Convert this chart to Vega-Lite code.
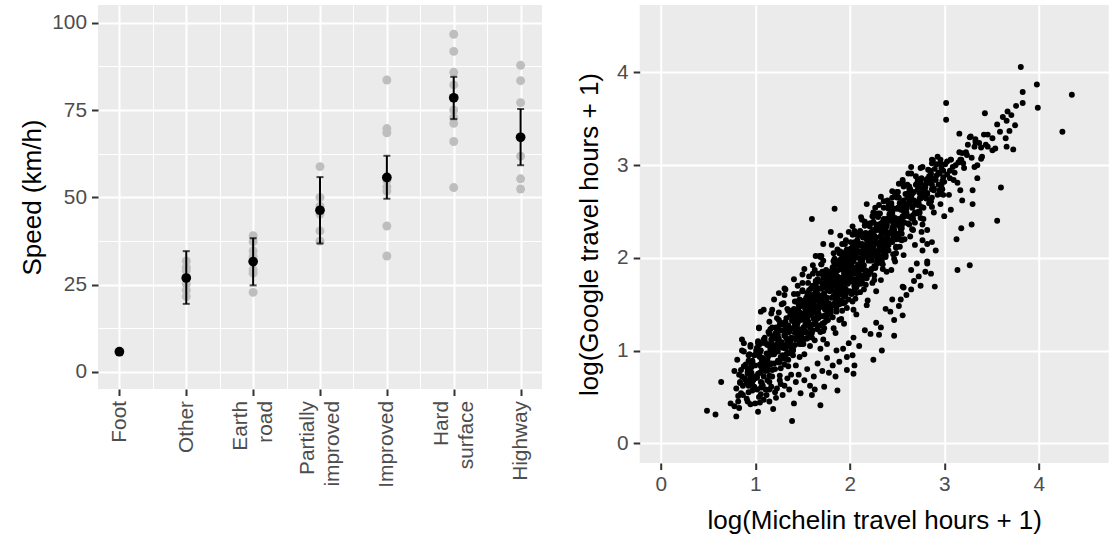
{
"$schema": "https://vega.github.io/schema/vega-lite/v6.json",
"padding": {"left": 19, "top": 5, "right": 0, "bottom": 0},
"spacing": 33.7,
"config": {
  "font": "Liberation Sans",
  "view": {"fill": "#EBEBEB", "stroke": null},
  "axis": {"domain": false, "gridColor": "#FFFFFF", "tickColor": "#333333", "tickSize": 6.5, "tickWidth": 2, "labelColor": "#4D4D4D", "labelFontSize": 20.8, "titleFontSize": 26, "titleColor": "#000000", "titleFontWeight": "normal", "labelPadding": 5, "titlePadding": 6.5}
},
"datasets": {
"roads": [
{"road":"Foot","speed":5.7},
{"road":"Other","speed":31.8},{"road":"Other","speed":30.0},{"road":"Other","speed":29.0},{"road":"Other","speed":27.0},{"road":"Other","speed":25.2},{"road":"Other","speed":23.4},{"road":"Other","speed":21.6},
{"road":"Earth road","speed":39.0},{"road":"Earth road","speed":37.3},{"road":"Earth road","speed":34.7},{"road":"Earth road","speed":33.0},{"road":"Earth road","speed":29.3},{"road":"Earth road","speed":28.3},{"road":"Earth road","speed":22.8},
{"road":"Partially improved","speed":58.8},{"road":"Partially improved","speed":50.0},{"road":"Partially improved","speed":47.5},{"road":"Partially improved","speed":45.2},{"road":"Partially improved","speed":40.4},{"road":"Partially improved","speed":37.5},
{"road":"Improved","speed":83.6},{"road":"Improved","speed":69.7},{"road":"Improved","speed":68.5},{"road":"Improved","speed":54.8},{"road":"Improved","speed":53.0},{"road":"Improved","speed":51.8},{"road":"Improved","speed":41.8},{"road":"Improved","speed":33.2},
{"road":"Hard surface","speed":96.7},{"road":"Hard surface","speed":91.8},{"road":"Hard surface","speed":85.8},{"road":"Hard surface","speed":82.2},{"road":"Hard surface","speed":75.0},{"road":"Hard surface","speed":72.8},{"road":"Hard surface","speed":71.2},{"road":"Hard surface","speed":66.0},{"road":"Hard surface","speed":52.8},
{"road":"Highway","speed":87.8},{"road":"Highway","speed":83.4},{"road":"Highway","speed":77.1},{"road":"Highway","speed":61.8},{"road":"Highway","speed":55.3},{"road":"Highway","speed":52.4}
],
"means": [
{"road":"Foot","mean":5.8,"lo":null,"hi":null},
{"road":"Other","mean":26.9,"lo":19.5,"hi":34.6},
{"road":"Earth road","mean":31.6,"lo":24.8,"hi":38.3},
{"road":"Partially improved","mean":46.3,"lo":36.8,"hi":55.8},
{"road":"Improved","mean":55.7,"lo":49.6,"hi":61.9},
{"road":"Hard surface","mean":78.5,"lo":72.4,"hi":84.5},
{"road":"Highway","mean":67.2,"lo":59.2,"hi":75.3}
],
"travel": [
{"m":0.49,"g":0.35},{"m":0.58,"g":0.31},{"m":0.64,"g":0.66},{"m":0.78,"g":0.78},{"m":0.80,"g":0.29},{"m":0.74,"g":0.43},{"m":0.78,"g":0.40},{"m":0.83,"g":0.38},{"m":0.85,"g":0.54},{"m":0.86,"g":0.72},{"m":0.90,"g":0.68},{"m":0.84,"g":0.65},{"m":0.93,"g":0.55},{"m":0.92,"g":0.45},{"m":0.99,"g":0.61},{"m":1.00,"g":0.43},{"m":1.03,"g":0.34},{"m":1.04,"g":0.50},{"m":1.09,"g":0.47},{"m":1.11,"g":0.58},{"m":1.19,"g":0.37},{"m":1.22,"g":0.49},{"m":1.23,"g":0.59},{"m":1.13,"g":0.68},{"m":1.18,"g":0.79},{"m":1.06,"g":0.83},{"m":0.97,"g":0.88},{"m":0.93,"g":0.95},{"m":0.88,"g":0.99},{"m":0.86,"g":1.12},{"m":0.88,"g":1.08},{"m":0.95,"g":1.04},{"m":1.06,"g":1.08},{"m":1.04,"g":1.24},{"m":1.06,"g":1.42},{"m":1.09,"g":1.44},{"m":1.18,"g":1.44},{"m":1.15,"g":1.31},{"m":1.20,"g":1.55},{"m":1.25,"g":1.62},{"m":1.32,"g":1.66},{"m":1.41,"g":1.77},{"m":1.52,"g":1.88},{"m":1.57,"g":1.80},{"m":1.64,"g":2.02},{"m":1.69,"g":2.01},{"m":1.72,"g":2.15},{"m":1.39,"g":0.24},{"m":1.41,"g":0.43},{"m":1.48,"g":0.54},{"m":1.60,"g":0.52},{"m":1.69,"g":0.41},{"m":1.63,"g":0.58},{"m":1.73,"g":0.61},{"m":1.87,"g":0.57},{"m":1.85,"g":0.72},{"m":1.78,"g":0.76},{"m":1.97,"g":0.79},{"m":2.04,"g":0.75},{"m":2.05,"g":0.84},{"m":1.89,"g":0.88},{"m":1.97,"g":0.93},{"m":2.03,"g":0.95},{"m":2.25,"g":0.90},{"m":2.34,"g":1.00},{"m":2.47,"g":1.16},{"m":2.31,"g":1.17},{"m":2.56,"g":1.38},{"m":2.47,"g":1.33},{"m":2.43,"g":1.42},{"m":2.54,"g":1.55},{"m":2.45,"g":1.55},{"m":2.57,"g":1.68},{"m":2.65,"g":1.66},{"m":2.86,"g":1.83},{"m":2.90,"g":1.69},{"m":2.82,"g":1.96},{"m":2.71,"g":1.94},{"m":2.77,"g":2.08},{"m":2.82,"g":2.15},
{"m":1.60,"g":2.42},{"m":1.84,"g":2.53},{"m":1.80,"g":2.28},{"m":1.68,"g":2.02},{"m":1.31,"g":1.67},{"m":1.99,"g":2.28},{"m":2.18,"g":2.58},{"m":2.13,"g":2.41},{"m":2.33,"g":2.66},{"m":2.40,"g":2.62},{"m":2.49,"g":2.70},{"m":2.56,"g":2.82},{"m":2.62,"g":2.91},{"m":2.65,"g":2.98},{"m":2.75,"g":2.97},{"m":2.87,"g":3.02},{"m":2.96,"g":3.06},{"m":3.03,"g":3.04},{"m":3.16,"g":3.34},{"m":3.28,"g":3.31},{"m":3.33,"g":3.25},{"m":3.42,"g":3.33},{"m":3.46,"g":3.20},{"m":3.39,"g":3.07},{"m":3.32,"g":2.98},{"m":3.35,"g":2.86},{"m":3.30,"g":2.73},{"m":3.30,"g":2.58},{"m":3.29,"g":2.36},{"m":3.18,"g":2.32},{"m":3.13,"g":2.20},{"m":3.07,"g":2.52},{"m":3.00,"g":2.45},{"m":2.91,"g":2.08},{"m":2.82,"g":1.94},{"m":3.14,"g":1.87},{"m":3.27,"g":1.92},{"m":3.56,"g":2.40},{"m":3.60,"g":2.76},{"m":3.17,"g":2.73},{"m":3.19,"g":2.62},{"m":3.10,"g":2.84},{"m":2.93,"g":2.68},{"m":2.82,"g":2.30},{"m":2.77,"g":2.19},{"m":2.87,"g":2.17},{"m":2.65,"g":1.87},{"m":2.73,"g":1.80},{"m":2.56,"g":1.69},
{"m":3.81,"g":4.06},{"m":3.98,"g":3.87},{"m":4.35,"g":3.76},{"m":3.83,"g":3.79},{"m":3.99,"g":3.62},{"m":4.25,"g":3.36},{"m":3.02,"g":3.67},{"m":3.02,"g":3.49},{"m":3.43,"g":3.56},{"m":3.83,"g":3.67},{"m":3.76,"g":3.64},{"m":3.67,"g":3.58},{"m":3.71,"g":3.54},{"m":3.75,"g":3.43},{"m":3.66,"g":3.48},{"m":3.62,"g":3.52},{"m":3.56,"g":3.44},{"m":3.69,"g":3.37},{"m":3.59,"g":3.36},{"m":3.65,"g":3.29},{"m":3.51,"g":3.29},{"m":3.46,"g":3.33},{"m":3.54,"g":3.18},{"m":3.66,"g":3.20},{"m":3.73,"g":3.17},{"m":3.51,"g":3.16},{"m":3.27,"g":3.30},{"m":3.33,"g":3.28},{"m":3.37,"g":3.24},{"m":3.32,"g":3.20},{"m":3.39,"g":3.19},{"m":3.44,"g":3.22},{"m":3.40,"g":3.09},{"m":3.35,"g":3.00},{"m":3.19,"g":3.13},{"m":3.17,"g":3.06},{"m":3.21,"g":2.97},{"m":3.07,"g":3.06},{"m":2.96,"g":3.02},{"m":2.87,"g":3.06},
{"m":0.83,"g":0.74},{"m":0.87,"g":0.62},{"m":0.81,"g":0.90},{"m":0.89,"g":0.70},{"m":0.85,"g":0.79},{"m":0.82,"g":0.51},{"m":0.88,"g":0.83},{"m":0.84,"g":0.66},{"m":0.86,"g":1.00},{"m":0.80,"g":0.59},
{"m":0.92,"g":0.80},{"m":0.98,"g":0.68},{"m":0.94,"g":0.96},{"m":0.96,"g":0.76},{"m":0.90,"g":0.85},{"m":0.97,"g":0.57},{"m":0.93,"g":0.89},{"m":0.99,"g":0.72},{"m":0.95,"g":1.06},{"m":0.91,"g":0.65},{"m":0.96,"g":0.82},{"m":0.92,"g":0.77},
{"m":1.07,"g":0.90},{"m":1.03,"g":0.75},{"m":1.09,"g":1.12},{"m":1.05,"g":0.85},{"m":1.01,"g":0.97},{"m":1.06,"g":0.60},{"m":1.02,"g":1.03},{"m":1.08,"g":0.80},{"m":1.04,"g":1.25},{"m":1.00,"g":0.70},{"m":1.05,"g":0.93},{"m":1.09,"g":0.87},{"m":1.03,"g":1.08},{"m":1.07,"g":0.65},{"m":1.01,"g":1.00},{"m":1.06,"g":0.53},
{"m":1.16,"g":1.00},{"m":1.12,"g":0.84},{"m":1.18,"g":1.25},{"m":1.14,"g":0.94},{"m":1.10,"g":1.08},{"m":1.15,"g":0.66},{"m":1.19,"g":1.15},{"m":1.13,"g":0.89},{"m":1.17,"g":1.40},{"m":1.11,"g":0.78},{"m":1.16,"g":1.03},{"m":1.12,"g":0.97},{"m":1.14,"g":1.20},{"m":1.18,"g":0.72},{"m":1.10,"g":1.11},{"m":1.15,"g":0.58},{"m":1.13,"g":1.06},{"m":1.17,"g":0.86},
{"m":1.25,"g":1.10},{"m":1.29,"g":0.92},{"m":1.23,"g":1.35},{"m":1.27,"g":1.04},{"m":1.21,"g":1.18},{"m":1.26,"g":0.73},{"m":1.22,"g":1.25},{"m":1.24,"g":0.99},{"m":1.28,"g":1.50},{"m":1.20,"g":0.86},{"m":1.25,"g":1.13},{"m":1.23,"g":1.07},{"m":1.27,"g":1.30},{"m":1.21,"g":0.80},{"m":1.23,"g":1.21},{"m":1.27,"g":0.64},{"m":1.21,"g":1.16},{"m":1.29,"g":0.95},{"m":1.25,"g":1.41},{"m":1.22,"g":1.02},{"m":1.28,"g":1.09},{"m":1.24,"g":0.89},
{"m":1.36,"g":1.20},{"m":1.32,"g":1.02},{"m":1.34,"g":1.45},{"m":1.38,"g":1.14},{"m":1.30,"g":1.28},{"m":1.35,"g":0.83},{"m":1.33,"g":1.35},{"m":1.37,"g":1.09},{"m":1.31,"g":1.60},{"m":1.33,"g":0.96},{"m":1.37,"g":1.23},{"m":1.31,"g":1.17},{"m":1.39,"g":1.40},{"m":1.35,"g":0.90},{"m":1.32,"g":1.31},{"m":1.38,"g":0.74},{"m":1.34,"g":1.26},{"m":1.36,"g":1.05},{"m":1.30,"g":1.51},{"m":1.37,"g":1.12},{"m":1.33,"g":1.19},{"m":1.39,"g":0.99},{"m":1.35,"g":1.43},{"m":1.31,"g":0.85},
{"m":1.45,"g":1.30},{"m":1.43,"g":1.12},{"m":1.47,"g":1.55},{"m":1.41,"g":1.24},{"m":1.43,"g":1.38},{"m":1.47,"g":0.93},{"m":1.41,"g":1.45},{"m":1.49,"g":1.19},{"m":1.45,"g":1.70},{"m":1.42,"g":1.06},{"m":1.48,"g":1.33},{"m":1.44,"g":1.27},{"m":1.46,"g":1.50},{"m":1.40,"g":1.00},{"m":1.47,"g":1.41},{"m":1.43,"g":0.84},{"m":1.49,"g":1.36},{"m":1.45,"g":1.15},{"m":1.41,"g":1.61},{"m":1.46,"g":1.22},{"m":1.42,"g":1.29},{"m":1.48,"g":1.09},{"m":1.44,"g":1.53},{"m":1.40,"g":0.95},{"m":1.45,"g":1.43},{"m":1.49,"g":1.21},
{"m":1.57,"g":1.42},{"m":1.51,"g":1.24},{"m":1.59,"g":1.67},{"m":1.55,"g":1.36},{"m":1.52,"g":1.50},{"m":1.58,"g":1.05},{"m":1.54,"g":1.57},{"m":1.56,"g":1.31},{"m":1.50,"g":1.82},{"m":1.57,"g":1.18},{"m":1.53,"g":1.45},{"m":1.59,"g":1.39},{"m":1.55,"g":1.62},{"m":1.51,"g":1.12},{"m":1.56,"g":1.53},{"m":1.52,"g":0.96},{"m":1.58,"g":1.48},{"m":1.54,"g":1.27},{"m":1.50,"g":1.73},{"m":1.55,"g":1.34},{"m":1.59,"g":1.41},{"m":1.53,"g":1.21},{"m":1.57,"g":1.65},{"m":1.51,"g":1.07},{"m":1.56,"g":1.55},{"m":1.52,"g":1.33},{"m":1.54,"g":1.44},{"m":1.58,"g":1.15},
{"m":1.68,"g":1.52},{"m":1.64,"g":1.32},{"m":1.66,"g":1.77},{"m":1.60,"g":1.46},{"m":1.67,"g":1.60},{"m":1.63,"g":1.11},{"m":1.69,"g":1.67},{"m":1.65,"g":1.40},{"m":1.61,"g":1.92},{"m":1.66,"g":1.26},{"m":1.62,"g":1.55},{"m":1.68,"g":1.49},{"m":1.64,"g":1.72},{"m":1.60,"g":1.19},{"m":1.65,"g":1.63},{"m":1.69,"g":1.02},{"m":1.63,"g":1.58},{"m":1.67,"g":1.35},{"m":1.61,"g":1.83},{"m":1.66,"g":1.43},{"m":1.62,"g":1.51},{"m":1.64,"g":1.29},{"m":1.68,"g":1.75},{"m":1.60,"g":1.14},{"m":1.65,"g":1.65},{"m":1.63,"g":1.42},{"m":1.67,"g":1.54},{"m":1.61,"g":1.22},{"m":1.63,"g":1.87},{"m":1.67,"g":1.37},
{"m":1.73,"g":1.62},{"m":1.79,"g":1.42},{"m":1.75,"g":1.87},{"m":1.71,"g":1.56},{"m":1.76,"g":1.70},{"m":1.72,"g":1.21},{"m":1.78,"g":1.77},{"m":1.74,"g":1.50},{"m":1.70,"g":2.02},{"m":1.75,"g":1.36},{"m":1.79,"g":1.65},{"m":1.73,"g":1.59},{"m":1.77,"g":1.82},{"m":1.71,"g":1.29},{"m":1.76,"g":1.73},{"m":1.72,"g":1.12},{"m":1.74,"g":1.68},{"m":1.78,"g":1.45},{"m":1.70,"g":1.93},{"m":1.75,"g":1.53},{"m":1.73,"g":1.61},{"m":1.77,"g":1.39},{"m":1.71,"g":1.85},{"m":1.73,"g":1.24},{"m":1.77,"g":1.75},{"m":1.71,"g":1.52},{"m":1.79,"g":1.64},{"m":1.75,"g":1.32},{"m":1.72,"g":1.97},{"m":1.78,"g":1.47},{"m":1.74,"g":1.80},{"m":1.76,"g":1.07},
{"m":1.82,"g":1.74},{"m":1.88,"g":1.54},{"m":1.84,"g":1.99},{"m":1.80,"g":1.68},{"m":1.85,"g":1.82},{"m":1.89,"g":1.33},{"m":1.83,"g":1.89},{"m":1.87,"g":1.62},{"m":1.81,"g":2.14},{"m":1.86,"g":1.48},{"m":1.82,"g":1.77},{"m":1.84,"g":1.71},{"m":1.88,"g":1.94},{"m":1.80,"g":1.41},{"m":1.85,"g":1.85},{"m":1.83,"g":1.24},{"m":1.87,"g":1.80},{"m":1.81,"g":1.57},{"m":1.83,"g":2.05},{"m":1.87,"g":1.65},{"m":1.81,"g":1.73},{"m":1.89,"g":1.51},{"m":1.85,"g":1.97},{"m":1.82,"g":1.36},{"m":1.88,"g":1.87},{"m":1.84,"g":1.64},{"m":1.86,"g":1.76},{"m":1.80,"g":1.44},{"m":1.87,"g":2.09},{"m":1.83,"g":1.59},{"m":1.89,"g":1.92},{"m":1.85,"g":1.19},{"m":1.81,"g":1.78},{"m":1.86,"g":1.69},
{"m":1.99,"g":1.84},{"m":1.93,"g":1.64},{"m":1.97,"g":2.09},{"m":1.91,"g":1.78},{"m":1.96,"g":1.92},{"m":1.92,"g":1.43},{"m":1.94,"g":1.99},{"m":1.98,"g":1.72},{"m":1.90,"g":2.24},{"m":1.95,"g":1.58},{"m":1.93,"g":1.87},{"m":1.97,"g":1.81},{"m":1.91,"g":2.04},{"m":1.93,"g":1.51},{"m":1.97,"g":1.95},{"m":1.91,"g":1.34},{"m":1.99,"g":1.90},{"m":1.95,"g":1.67},{"m":1.92,"g":2.15},{"m":1.98,"g":1.75},{"m":1.94,"g":1.83},{"m":1.96,"g":1.61},{"m":1.90,"g":2.07},{"m":1.97,"g":1.46},{"m":1.93,"g":1.97},{"m":1.99,"g":1.74},{"m":1.95,"g":1.86},{"m":1.91,"g":1.54},{"m":1.96,"g":2.19},{"m":1.92,"g":1.69},{"m":1.98,"g":2.02},{"m":1.94,"g":1.29},{"m":1.90,"g":1.88},{"m":1.95,"g":1.79},
{"m":2.02,"g":1.94},{"m":2.04,"g":1.74},{"m":2.08,"g":2.19},{"m":2.00,"g":1.88},{"m":2.05,"g":2.02},{"m":2.03,"g":1.53},{"m":2.07,"g":2.09},{"m":2.01,"g":1.82},{"m":2.03,"g":2.34},{"m":2.07,"g":1.68},{"m":2.01,"g":1.97},{"m":2.09,"g":1.91},{"m":2.05,"g":2.14},{"m":2.02,"g":1.61},{"m":2.08,"g":2.05},{"m":2.04,"g":1.44},{"m":2.06,"g":2.00},{"m":2.00,"g":1.77},{"m":2.07,"g":2.25},{"m":2.03,"g":1.85},{"m":2.09,"g":1.93},{"m":2.05,"g":1.71},{"m":2.01,"g":2.17},{"m":2.06,"g":1.56},{"m":2.02,"g":2.07},{"m":2.08,"g":1.84},{"m":2.04,"g":1.96},{"m":2.00,"g":1.64},{"m":2.05,"g":2.29},{"m":2.09,"g":1.79},{"m":2.03,"g":2.12},{"m":2.07,"g":1.39},{"m":2.01,"g":1.98},{"m":2.06,"g":1.89},
{"m":2.13,"g":2.04},{"m":2.17,"g":1.84},{"m":2.11,"g":2.29},{"m":2.13,"g":1.98},{"m":2.17,"g":2.12},{"m":2.11,"g":1.63},{"m":2.19,"g":2.19},{"m":2.15,"g":1.92},{"m":2.12,"g":2.44},{"m":2.18,"g":1.78},{"m":2.14,"g":2.07},{"m":2.16,"g":2.01},{"m":2.10,"g":2.24},{"m":2.17,"g":1.71},{"m":2.13,"g":2.15},{"m":2.19,"g":1.54},{"m":2.15,"g":2.10},{"m":2.11,"g":1.87},{"m":2.16,"g":2.35},{"m":2.12,"g":1.95},{"m":2.18,"g":2.03},{"m":2.14,"g":1.81},{"m":2.10,"g":2.27},{"m":2.15,"g":1.66},{"m":2.19,"g":2.17},{"m":2.13,"g":1.94},{"m":2.17,"g":2.06},{"m":2.11,"g":1.74},{"m":2.16,"g":2.39},{"m":2.12,"g":1.89},{"m":2.14,"g":2.22},{"m":2.18,"g":1.49},
{"m":2.21,"g":2.14},{"m":2.29,"g":1.94},{"m":2.25,"g":2.39},{"m":2.22,"g":2.08},{"m":2.28,"g":2.22},{"m":2.24,"g":1.73},{"m":2.26,"g":2.29},{"m":2.20,"g":2.02},{"m":2.27,"g":2.54},{"m":2.23,"g":1.88},{"m":2.29,"g":2.17},{"m":2.25,"g":2.11},{"m":2.21,"g":2.34},{"m":2.26,"g":1.81},{"m":2.22,"g":2.25},{"m":2.28,"g":1.64},{"m":2.24,"g":2.20},{"m":2.20,"g":1.97},{"m":2.25,"g":2.45},{"m":2.29,"g":2.05},{"m":2.23,"g":2.13},{"m":2.27,"g":1.91},{"m":2.21,"g":2.37},{"m":2.26,"g":1.76},{"m":2.22,"g":2.27},{"m":2.24,"g":2.04},{"m":2.28,"g":2.16},{"m":2.20,"g":1.84},{"m":2.25,"g":2.49},{"m":2.23,"g":1.99},
{"m":2.34,"g":2.26},{"m":2.36,"g":2.06},{"m":2.30,"g":2.48},{"m":2.37,"g":2.20},{"m":2.33,"g":2.33},{"m":2.39,"g":1.85},{"m":2.35,"g":2.39},{"m":2.31,"g":2.14},{"m":2.36,"g":2.61},{"m":2.32,"g":2.00},{"m":2.38,"g":2.29},{"m":2.34,"g":2.23},{"m":2.30,"g":2.44},{"m":2.35,"g":1.93},{"m":2.39,"g":2.36},{"m":2.33,"g":1.76},{"m":2.37,"g":2.31},{"m":2.31,"g":2.09},{"m":2.36,"g":2.54},{"m":2.32,"g":2.17},{"m":2.34,"g":2.25},{"m":2.38,"g":2.03},{"m":2.30,"g":2.46},{"m":2.35,"g":1.88},{"m":2.33,"g":2.37},{"m":2.37,"g":2.16},
{"m":2.49,"g":2.37},{"m":2.45,"g":2.17},{"m":2.41,"g":2.59},{"m":2.46,"g":2.31},{"m":2.42,"g":2.44},{"m":2.48,"g":1.96},{"m":2.44,"g":2.50},{"m":2.40,"g":2.25},{"m":2.45,"g":2.72},{"m":2.49,"g":2.11},{"m":2.43,"g":2.40},{"m":2.47,"g":2.34},{"m":2.41,"g":2.55},{"m":2.46,"g":2.04},{"m":2.42,"g":2.47},{"m":2.44,"g":1.87},{"m":2.48,"g":2.42},{"m":2.40,"g":2.20},{"m":2.45,"g":2.65},{"m":2.43,"g":2.28},{"m":2.47,"g":2.36},{"m":2.41,"g":2.14},{"m":2.43,"g":2.57},{"m":2.47,"g":1.99},
{"m":2.58,"g":2.49},{"m":2.54,"g":2.31},{"m":2.50,"g":2.71},{"m":2.55,"g":2.43},{"m":2.59,"g":2.56},{"m":2.53,"g":2.12},{"m":2.57,"g":2.62},{"m":2.51,"g":2.38},{"m":2.56,"g":2.84},{"m":2.52,"g":2.25},{"m":2.54,"g":2.52},{"m":2.58,"g":2.46},{"m":2.50,"g":2.67},{"m":2.55,"g":2.19},{"m":2.53,"g":2.59},{"m":2.57,"g":2.03},{"m":2.51,"g":2.54},{"m":2.53,"g":2.34},{"m":2.57,"g":2.77},{"m":2.51,"g":2.41},
{"m":2.63,"g":2.60},{"m":2.67,"g":2.42},{"m":2.61,"g":2.79},{"m":2.66,"g":2.54},{"m":2.62,"g":2.66},{"m":2.64,"g":2.23},{"m":2.68,"g":2.71},{"m":2.60,"g":2.49},{"m":2.65,"g":2.91},{"m":2.63,"g":2.36},{"m":2.67,"g":2.62},{"m":2.61,"g":2.57},{"m":2.63,"g":2.75},{"m":2.67,"g":2.30},{"m":2.61,"g":2.68},{"m":2.69,"g":2.14},{"m":2.65,"g":2.64},{"m":2.62,"g":2.45},
{"m":2.74,"g":2.70},{"m":2.78,"g":2.54},{"m":2.70,"g":2.88},{"m":2.75,"g":2.64},{"m":2.73,"g":2.75},{"m":2.77,"g":2.36},{"m":2.71,"g":2.80},{"m":2.73,"g":2.59},{"m":2.77,"g":2.98},{"m":2.71,"g":2.48},{"m":2.79,"g":2.72},{"m":2.75,"g":2.67},{"m":2.72,"g":2.84},{"m":2.78,"g":2.42},{"m":2.74,"g":2.77},{"m":2.76,"g":2.28},
{"m":2.87,"g":2.79},{"m":2.81,"g":2.64},{"m":2.83,"g":2.95},{"m":2.87,"g":2.74},{"m":2.81,"g":2.84},{"m":2.89,"g":2.49},{"m":2.85,"g":2.88},{"m":2.82,"g":2.69},{"m":2.88,"g":3.05},{"m":2.84,"g":2.59},{"m":2.86,"g":2.81},{"m":2.80,"g":2.76},
{"m":2.99,"g":2.87},{"m":2.95,"g":2.73},{"m":2.92,"g":3.01},{"m":2.98,"g":2.83},{"m":2.94,"g":2.92},{"m":2.96,"g":2.58},{"m":2.90,"g":2.96},{"m":2.97,"g":2.78},{"m":2.93,"g":3.09},{"m":2.99,"g":2.68},
{"m":3.06,"g":2.94},{"m":3.00,"g":2.82},{"m":3.07,"g":3.06},{"m":3.03,"g":2.90},{"m":3.09,"g":2.98},{"m":3.05,"g":2.68},{"m":3.01,"g":3.01},{"m":3.06,"g":2.86},
{"m":3.15,"g":3.03},{"m":3.11,"g":2.92},{"m":3.16,"g":3.14},{"m":3.12,"g":3.00},{"m":3.18,"g":3.06},{"m":3.14,"g":2.81},
{"m":3.24,"g":3.11},{"m":3.20,"g":3.02},{"m":3.25,"g":3.22},{"m":3.29,"g":3.08},{"m":3.23,"g":3.14},
{"m":1.45,"g":1.34},{"m":1.41,"g":1.13},{"m":1.47,"g":1.52},{"m":1.43,"g":1.25},{"m":1.48,"g":1.40},{"m":1.40,"g":1.01},{"m":1.46,"g":1.46},{"m":1.42,"g":1.19},{"m":1.45,"g":1.61},{"m":1.49,"g":1.07},{"m":1.44,"g":1.28},{"m":1.46,"g":1.37},
{"m":1.53,"g":1.46},{"m":1.58,"g":1.25},{"m":1.50,"g":1.64},{"m":1.56,"g":1.37},{"m":1.52,"g":1.52},{"m":1.55,"g":1.13},{"m":1.59,"g":1.58},{"m":1.54,"g":1.31},{"m":1.56,"g":1.73},{"m":1.55,"g":1.19},{"m":1.51,"g":1.40},{"m":1.57,"g":1.49},
{"m":1.66,"g":1.56},{"m":1.62,"g":1.35},{"m":1.65,"g":1.74},{"m":1.69,"g":1.47},{"m":1.64,"g":1.62},{"m":1.66,"g":1.23},{"m":1.65,"g":1.68},{"m":1.61,"g":1.41},{"m":1.67,"g":1.83},{"m":1.63,"g":1.29},{"m":1.68,"g":1.50},{"m":1.60,"g":1.59},
{"m":1.79,"g":1.66},{"m":1.74,"g":1.45},{"m":1.76,"g":1.84},{"m":1.75,"g":1.57},{"m":1.71,"g":1.72},{"m":1.77,"g":1.33},{"m":1.73,"g":1.78},{"m":1.78,"g":1.51},{"m":1.70,"g":1.93},{"m":1.76,"g":1.39},{"m":1.72,"g":1.60},{"m":1.75,"g":1.69},
{"m":1.81,"g":1.78},{"m":1.87,"g":1.57},{"m":1.83,"g":1.96},{"m":1.88,"g":1.69},{"m":1.80,"g":1.84},{"m":1.86,"g":1.45},{"m":1.82,"g":1.90},{"m":1.85,"g":1.63},{"m":1.89,"g":2.05},{"m":1.84,"g":1.51},{"m":1.86,"g":1.72},{"m":1.85,"g":1.81},
{"m":1.98,"g":1.88},{"m":1.90,"g":1.67},{"m":1.96,"g":2.06},{"m":1.92,"g":1.79},{"m":1.95,"g":1.94},{"m":1.99,"g":1.55},{"m":1.94,"g":2.00},{"m":1.96,"g":1.73},{"m":1.95,"g":2.15},{"m":1.91,"g":1.61},{"m":1.97,"g":1.82},{"m":1.93,"g":1.91},
{"m":2.02,"g":1.98},{"m":2.05,"g":1.77},{"m":2.09,"g":2.16},{"m":2.04,"g":1.89},{"m":2.06,"g":2.04},{"m":2.05,"g":1.65},{"m":2.01,"g":2.10},{"m":2.07,"g":1.83},{"m":2.03,"g":2.25},{"m":2.08,"g":1.71},{"m":2.00,"g":1.92},{"m":2.06,"g":2.01},
{"m":2.14,"g":2.08},{"m":2.16,"g":1.87},{"m":2.15,"g":2.26},{"m":2.11,"g":1.99},{"m":2.17,"g":2.14},{"m":2.13,"g":1.75},{"m":2.18,"g":2.20},{"m":2.10,"g":1.93},{"m":2.16,"g":2.35},{"m":2.12,"g":1.81},{"m":2.15,"g":2.02},{"m":2.19,"g":2.11},
{"m":2.27,"g":2.18},{"m":2.23,"g":1.97},{"m":2.28,"g":2.36},{"m":2.20,"g":2.09},{"m":2.26,"g":2.24},{"m":2.22,"g":1.85},{"m":2.25,"g":2.30},{"m":2.29,"g":2.03},{"m":2.24,"g":2.45},{"m":2.26,"g":1.91},{"m":2.25,"g":2.12},{"m":2.21,"g":2.21},
{"m":2.30,"g":2.30},{"m":2.36,"g":2.09},{"m":2.32,"g":2.48},{"m":2.35,"g":2.21},{"m":2.39,"g":2.36},{"m":2.34,"g":1.97},{"m":2.36,"g":2.42},{"m":2.35,"g":2.15},{"m":2.31,"g":2.57},{"m":2.37,"g":2.03},{"m":2.33,"g":2.24},{"m":2.38,"g":2.33},
{"m":2.45,"g":2.41},{"m":2.49,"g":2.20},{"m":2.44,"g":2.59},{"m":2.46,"g":2.32},{"m":2.45,"g":2.47},{"m":2.41,"g":2.08},{"m":2.47,"g":2.53},{"m":2.43,"g":2.26},{"m":2.48,"g":2.68},{"m":2.40,"g":2.14},{"m":2.46,"g":2.35},{"m":2.42,"g":2.44},
{"m":2.56,"g":2.53},{"m":2.55,"g":2.32},{"m":2.51,"g":2.71},{"m":2.57,"g":2.44},{"m":2.53,"g":2.59},{"m":2.58,"g":2.20},{"m":2.50,"g":2.65},{"m":2.56,"g":2.38},{"m":2.52,"g":2.80},{"m":2.55,"g":2.26},{"m":2.59,"g":2.47},{"m":2.54,"g":2.56},
{"m":1.02,"g":0.71},{"m":1.06,"g":1.00},{"m":1.09,"g":0.81},{"m":1.04,"g":1.06},{"m":1.07,"g":0.86},{"m":1.01,"g":0.96},{"m":1.05,"g":0.76},{"m":1.08,"g":0.92},
{"m":1.14,"g":0.79},{"m":1.17,"g":1.12},{"m":1.11,"g":0.90},{"m":1.15,"g":1.18},{"m":1.18,"g":0.96},{"m":1.12,"g":1.07},{"m":1.16,"g":0.85},{"m":1.19,"g":1.03},
{"m":1.25,"g":0.87},{"m":1.28,"g":1.22},{"m":1.22,"g":0.99},{"m":1.26,"g":1.28},{"m":1.29,"g":1.06},{"m":1.24,"g":1.17},{"m":1.27,"g":0.93},{"m":1.21,"g":1.13},
{"m":1.36,"g":0.97},{"m":1.39,"g":1.32},{"m":1.34,"g":1.09},{"m":1.37,"g":1.38},{"m":1.31,"g":1.16},{"m":1.35,"g":1.27},{"m":1.38,"g":1.03},{"m":1.32,"g":1.23},
{"m":1.47,"g":1.07},{"m":1.41,"g":1.42},{"m":1.45,"g":1.19},{"m":1.48,"g":1.48},{"m":1.42,"g":1.26},{"m":1.46,"g":1.37},{"m":1.49,"g":1.13},{"m":1.44,"g":1.33},
{"m":1.58,"g":1.19},{"m":1.52,"g":1.54},{"m":1.56,"g":1.31},{"m":1.59,"g":1.60},{"m":1.54,"g":1.38},{"m":1.57,"g":1.49},{"m":1.51,"g":1.25},{"m":1.55,"g":1.45},
{"m":1.69,"g":1.27},{"m":1.64,"g":1.64},{"m":1.67,"g":1.40},{"m":1.61,"g":1.70},{"m":1.65,"g":1.47},{"m":1.68,"g":1.59},{"m":1.62,"g":1.34},{"m":1.66,"g":1.55},
{"m":1.71,"g":1.37},{"m":1.75,"g":1.74},{"m":1.78,"g":1.50},{"m":1.72,"g":1.80},{"m":1.76,"g":1.57},{"m":1.79,"g":1.69},{"m":1.74,"g":1.44},{"m":1.77,"g":1.65},
{"m":1.82,"g":1.49},{"m":1.86,"g":1.86},{"m":1.89,"g":1.62},{"m":1.84,"g":1.92},{"m":1.87,"g":1.69},{"m":1.81,"g":1.81},{"m":1.85,"g":1.56},{"m":1.88,"g":1.77},
{"m":1.94,"g":1.59},{"m":1.97,"g":1.96},{"m":1.91,"g":1.72},{"m":1.95,"g":2.02},{"m":1.98,"g":1.79},{"m":1.92,"g":1.91},{"m":1.96,"g":1.66},{"m":1.99,"g":1.87},
{"m":2.05,"g":1.69},{"m":2.08,"g":2.06},{"m":2.02,"g":1.82},{"m":2.06,"g":2.12},{"m":2.09,"g":1.89},{"m":2.04,"g":2.01},{"m":2.07,"g":1.76},{"m":2.01,"g":1.97},
{"m":2.16,"g":1.79},{"m":2.19,"g":2.16},{"m":2.14,"g":1.92},{"m":2.17,"g":2.22},{"m":2.11,"g":1.99},{"m":2.15,"g":2.11},{"m":2.18,"g":1.86},{"m":2.12,"g":2.07},
{"m":2.27,"g":1.89},{"m":2.21,"g":2.26},{"m":2.25,"g":2.02},{"m":2.28,"g":2.32},{"m":2.22,"g":2.09},{"m":2.26,"g":2.21},{"m":2.29,"g":1.96},{"m":2.24,"g":2.17},
{"m":2.38,"g":2.01},{"m":2.32,"g":2.36},{"m":2.36,"g":2.14},{"m":2.39,"g":2.42},{"m":2.34,"g":2.21},{"m":2.37,"g":2.32},{"m":2.31,"g":2.08},{"m":2.35,"g":2.28},
{"m":2.49,"g":2.12},{"m":2.44,"g":2.47},{"m":2.47,"g":2.25},{"m":2.41,"g":2.53},{"m":2.45,"g":2.32},{"m":2.48,"g":2.43},{"m":2.42,"g":2.19},{"m":2.46,"g":2.39},
{"m":2.51,"g":2.26},{"m":2.55,"g":2.59},{"m":2.58,"g":2.38},{"m":2.52,"g":2.65},{"m":2.56,"g":2.45},{"m":2.59,"g":2.55},{"m":2.54,"g":2.32},{"m":2.57,"g":2.51},
{"m":2.62,"g":2.37},{"m":2.66,"g":2.69},{"m":2.69,"g":2.49},{"m":2.64,"g":2.74},{"m":2.67,"g":2.56},{"m":2.61,"g":2.65},{"m":2.65,"g":2.43},{"m":2.68,"g":2.62},
{"m":2.74,"g":2.49},{"m":2.77,"g":2.78},{"m":2.71,"g":2.60},{"m":2.75,"g":2.82},{"m":2.78,"g":2.66},{"m":2.72,"g":2.74},{"m":2.76,"g":2.55},{"m":2.79,"g":2.71},
{"m":2.85,"g":2.60},{"m":2.88,"g":2.86},{"m":2.82,"g":2.70},{"m":2.86,"g":2.91},{"m":2.89,"g":2.75},{"m":2.84,"g":2.83},{"m":2.87,"g":2.65},{"m":2.81,"g":2.80},
{"m":2.96,"g":2.69},{"m":2.99,"g":2.94},{"m":2.94,"g":2.79},{"m":2.97,"g":2.97},{"m":2.91,"g":2.84},{"m":2.95,"g":2.91},{"m":2.98,"g":2.74},{"m":2.92,"g":2.89},
{"m":0.82,"g":0.45},{"m":0.87,"g":0.52},{"m":0.91,"g":0.48},{"m":0.95,"g":0.42},{"m":0.97,"g":0.63},{"m":1.02,"g":0.58},{"m":1.05,"g":0.44},{"m":1.08,"g":0.62},{"m":1.12,"g":0.52},{"m":1.15,"g":0.45},{"m":1.17,"g":0.61},{"m":1.21,"g":0.55},{"m":1.26,"g":0.68},{"m":1.29,"g":0.52},{"m":1.31,"g":0.62},{"m":1.34,"g":0.70},{"m":1.36,"g":0.58},{"m":1.43,"g":0.66},{"m":1.46,"g":0.74},{"m":1.52,"g":0.68},{"m":1.55,"g":0.80},{"m":1.58,"g":0.62},{"m":1.62,"g":0.72},{"m":1.66,"g":0.86},{"m":1.71,"g":0.78},{"m":1.76,"g":0.92},{"m":1.82,"g":0.84},{"m":1.86,"g":1.00},{"m":1.93,"g":1.02},{"m":1.99,"g":1.08},{"m":2.04,"g":1.14},{"m":2.10,"g":1.05},{"m":2.16,"g":1.22},{"m":2.22,"g":1.18},{"m":2.28,"g":1.30},{"m":2.33,"g":1.25},{"m":2.38,"g":1.45},{"m":2.52,"g":1.48},{"m":2.60,"g":1.60},{"m":2.68,"g":1.75},{"m":2.75,"g":1.70},{"m":2.80,"g":1.85},
{"m":0.97,"g":0.89},{"m":0.93,"g":0.62},{"m":0.90,"g":0.83},{"m":0.95,"g":0.71},{"m":0.99,"g":0.95},{"m":0.92,"g":0.75},{"m":0.96,"g":0.86},{"m":0.94,"g":0.66},
{"m":1.02,"g":1.02},{"m":1.06,"g":0.66},{"m":1.04,"g":0.94},{"m":1.07,"g":0.78},{"m":1.03,"g":1.10},{"m":1.00,"g":0.84},{"m":1.05,"g":0.98},{"m":1.09,"g":0.72},
{"m":1.10,"g":1.14},{"m":1.15,"g":0.73},{"m":1.19,"g":1.05},{"m":1.12,"g":0.87},{"m":1.16,"g":1.23},{"m":1.14,"g":0.94},{"m":1.17,"g":1.09},{"m":1.13,"g":0.80},
{"m":1.24,"g":1.24},{"m":1.27,"g":0.81},{"m":1.23,"g":1.15},{"m":1.20,"g":0.96},{"m":1.25,"g":1.33},{"m":1.29,"g":1.03},{"m":1.22,"g":1.19},{"m":1.26,"g":0.88},
{"m":1.39,"g":1.34},{"m":1.32,"g":0.91},{"m":1.36,"g":1.25},{"m":1.34,"g":1.06},{"m":1.37,"g":1.43},{"m":1.33,"g":1.13},{"m":1.30,"g":1.29},{"m":1.35,"g":0.98},
{"m":1.43,"g":1.44},{"m":1.40,"g":1.01},{"m":1.45,"g":1.35},{"m":1.49,"g":1.16},{"m":1.42,"g":1.53},{"m":1.46,"g":1.23},{"m":1.44,"g":1.39},{"m":1.47,"g":1.08},
{"m":1.56,"g":1.56},{"m":1.54,"g":1.13},{"m":1.57,"g":1.47},{"m":1.53,"g":1.28},{"m":1.50,"g":1.65},{"m":1.55,"g":1.35},{"m":1.59,"g":1.51},{"m":1.52,"g":1.20},
{"m":1.65,"g":1.66},{"m":1.69,"g":1.20},{"m":1.62,"g":1.57},{"m":1.66,"g":1.36},{"m":1.64,"g":1.75},{"m":1.67,"g":1.45},{"m":1.63,"g":1.61},{"m":1.60,"g":1.28},
{"m":1.77,"g":1.76},{"m":1.73,"g":1.30},{"m":1.70,"g":1.67},{"m":1.75,"g":1.46},{"m":1.79,"g":1.85},{"m":1.72,"g":1.55},{"m":1.76,"g":1.71},{"m":1.74,"g":1.38},
{"m":1.82,"g":1.88},{"m":1.86,"g":1.42},{"m":1.84,"g":1.79},{"m":1.87,"g":1.58},{"m":1.83,"g":1.97},{"m":1.80,"g":1.67},{"m":1.85,"g":1.83},{"m":1.89,"g":1.50},
{"m":1.90,"g":1.98},{"m":1.95,"g":1.52},{"m":1.99,"g":1.89},{"m":1.92,"g":1.68},{"m":1.96,"g":2.07},{"m":1.94,"g":1.77},{"m":1.97,"g":1.93},{"m":1.93,"g":1.60},
{"m":2.04,"g":2.08},{"m":2.07,"g":1.62},{"m":2.03,"g":1.99},{"m":2.00,"g":1.78},{"m":2.05,"g":2.17},{"m":2.09,"g":1.87},{"m":2.02,"g":2.03},{"m":2.06,"g":1.70},
{"m":2.19,"g":2.18},{"m":2.12,"g":1.72},{"m":2.16,"g":2.09},{"m":2.14,"g":1.88},{"m":2.17,"g":2.27},{"m":2.13,"g":1.97},{"m":2.10,"g":2.13},{"m":2.15,"g":1.80},
{"m":2.23,"g":2.28},{"m":2.20,"g":1.82},{"m":2.25,"g":2.19},{"m":2.29,"g":1.98},{"m":2.22,"g":2.37},{"m":2.26,"g":2.07},{"m":2.24,"g":2.23},{"m":2.27,"g":1.90},
{"m":2.36,"g":2.38},{"m":2.34,"g":1.94},{"m":2.37,"g":2.30},{"m":2.33,"g":2.10},{"m":2.30,"g":2.46},{"m":2.35,"g":2.19},{"m":2.39,"g":2.34},{"m":2.32,"g":2.02},
{"m":2.45,"g":2.49},{"m":2.49,"g":2.05},{"m":2.42,"g":2.41},{"m":2.46,"g":2.21},{"m":2.44,"g":2.57},{"m":2.47,"g":2.30},{"m":2.43,"g":2.45},{"m":2.40,"g":2.13},
{"m":2.57,"g":2.61},{"m":2.53,"g":2.20},{"m":2.50,"g":2.53},{"m":2.55,"g":2.35},{"m":2.59,"g":2.69},{"m":2.52,"g":2.42},{"m":2.56,"g":2.57},{"m":2.54,"g":2.27},
{"m":2.62,"g":2.70},{"m":2.66,"g":2.31},{"m":2.64,"g":2.63},{"m":2.67,"g":2.46},{"m":2.63,"g":2.77},{"m":2.60,"g":2.53},{"m":2.65,"g":2.67},{"m":2.69,"g":2.38},
{"m":2.70,"g":2.79},{"m":2.75,"g":2.43},{"m":2.79,"g":2.73},{"m":2.72,"g":2.57},{"m":2.76,"g":2.86},{"m":2.74,"g":2.64},{"m":2.77,"g":2.76},{"m":2.73,"g":2.50},
{"m":2.84,"g":2.88},{"m":2.87,"g":2.55},{"m":2.83,"g":2.82},{"m":2.80,"g":2.67},{"m":2.85,"g":2.94},{"m":2.89,"g":2.73},{"m":2.82,"g":2.85},{"m":2.86,"g":2.61}
]
},
"hconcat": [
{
  "width": 444, "height": 384,
  "resolve": {"axis": {"x": "independent", "y": "independent"}},
  "layer": [
    {
      "data": {"name": "roads"},
      "mark": {"type": "point", "filled": true, "color": "#BEBEBE", "opacity": 1, "size": 80},
      "encoding": {
        "x": {"field": "road", "type": "nominal", "sort": ["Foot","Other","Earth road","Partially improved","Improved","Hard surface","Highway"],
              "scale": {"type": "point", "padding": 0.32, "domain": ["Foot","Other","Earth road","Partially improved","Improved","Hard surface","Highway"]},
              "axis": {"title": null, "grid": true, "labelAngle": -90, "labelAlign": "right", "labelBaseline": "middle", "labelExpr": "split(datum.label, ' ')", "labelLineHeight": 25,
                       "labelOffset": {"condition": {"test": "indexof(datum.value, ' ') >= 0", "value": -12.5}, "value": 0},
                       "gridWidth": 2}},
        "y": {"field": "speed", "type": "quantitative", "scale": {"domain": [-4.87, 105.07], "nice": false, "zero": false},
              "axis": {"title": "Speed (km/h)", "grid": true, "values": [0,12.5,25,37.5,50,62.5,75,87.5,100],
                       "labelExpr": "datum.value % 25 === 0 ? datum.label : ''",
                       "gridWidth": {"condition": {"test": "datum.value % 25 !== 0", "value": 1}, "value": 2},
                       "tickOpacity": {"condition": {"test": "datum.value % 25 !== 0", "value": 0}, "value": 1}}}
      }
    },
    {
      "data": {"name": "means"},
      "mark": {"type": "rule", "color": "#000000", "strokeWidth": 2},
      "encoding": {
        "x": {"field": "road", "type": "nominal", "sort": ["Foot","Other","Earth road","Partially improved","Improved","Hard surface","Highway"],
              "scale": {"type": "point", "padding": 0.32, "domain": ["Foot","Other","Earth road","Partially improved","Improved","Hard surface","Highway"]},
              "axis": {"orient": "bottom", "title": null, "grid": true, "values": ["Foot","Other","Earth road","Partially improved","Improved","Hard surface"], "tickOffset": 33.4, "labels": false, "ticks": false, "gridWidth": 1}},
        "y": {"field": "lo", "type": "quantitative", "scale": {"domain": [-4.87, 105.07], "nice": false, "zero": false}, "axis": null},
        "y2": {"field": "hi"}
      }
    },
    {
      "data": {"name": "means"},
      "mark": {"type": "tick", "color": "#000000", "size": 7, "thickness": 2},
      "encoding": {
        "x": {"field": "road", "type": "nominal", "sort": ["Foot","Other","Earth road","Partially improved","Improved","Hard surface","Highway"], "axis": null},
        "y": {"field": "lo", "type": "quantitative", "scale": {"domain": [-4.87, 105.07], "nice": false, "zero": false}, "axis": null}
      }
    },
    {
      "data": {"name": "means"},
      "mark": {"type": "tick", "color": "#000000", "size": 7, "thickness": 2},
      "encoding": {
        "x": {"field": "road", "type": "nominal", "sort": ["Foot","Other","Earth road","Partially improved","Improved","Hard surface","Highway"], "axis": null},
        "y": {"field": "hi", "type": "quantitative", "scale": {"domain": [-4.87, 105.07], "nice": false, "zero": false}, "axis": null}
      }
    },
    {
      "data": {"name": "means"},
      "mark": {"type": "point", "filled": true, "color": "#000000", "opacity": 1, "size": 95},
      "encoding": {
        "x": {"field": "road", "type": "nominal", "sort": ["Foot","Other","Earth road","Partially improved","Improved","Hard surface","Highway"], "axis": null},
        "y": {"field": "mean", "type": "quantitative", "scale": {"domain": [-4.87, 105.07], "nice": false, "zero": false}, "axis": null}
      }
    }
  ]
},
{
  "width": 469, "height": 458,
  "data": {"name": "travel"},
  "mark": {"type": "point", "filled": true, "color": "#000000", "opacity": 1, "size": 35},
  "encoding": {
    "x": {"field": "m", "type": "quantitative", "scale": {"domain": [-0.222, 4.74], "nice": false, "zero": false},
          "axis": {"title": "log(Michelin travel hours + 1)", "titlePadding": 13, "values": [0,0.5,1,1.5,2,2.5,3,3.5,4,4.5], "format": "d",
                   "labelExpr": "datum.value % 1 === 0 ? datum.label : ''",
                   "gridWidth": {"condition": {"test": "datum.value % 1 !== 0", "value": 1}, "value": 2},
                   "tickOpacity": {"condition": {"test": "datum.value % 1 !== 0", "value": 0}, "value": 1}}},
    "y": {"field": "g", "type": "quantitative", "scale": {"domain": [-0.213, 4.728], "nice": false, "zero": false},
          "axis": {"title": "log(Google travel hours + 1)", "titlePadding": 14.5, "values": [0,0.5,1,1.5,2,2.5,3,3.5,4,4.5], "format": "d",
                   "labelExpr": "datum.value % 1 === 0 ? datum.label : ''",
                   "gridWidth": {"condition": {"test": "datum.value % 1 !== 0", "value": 1}, "value": 2},
                   "tickOpacity": {"condition": {"test": "datum.value % 1 !== 0", "value": 0}, "value": 1}}}
  }
}
]
}
